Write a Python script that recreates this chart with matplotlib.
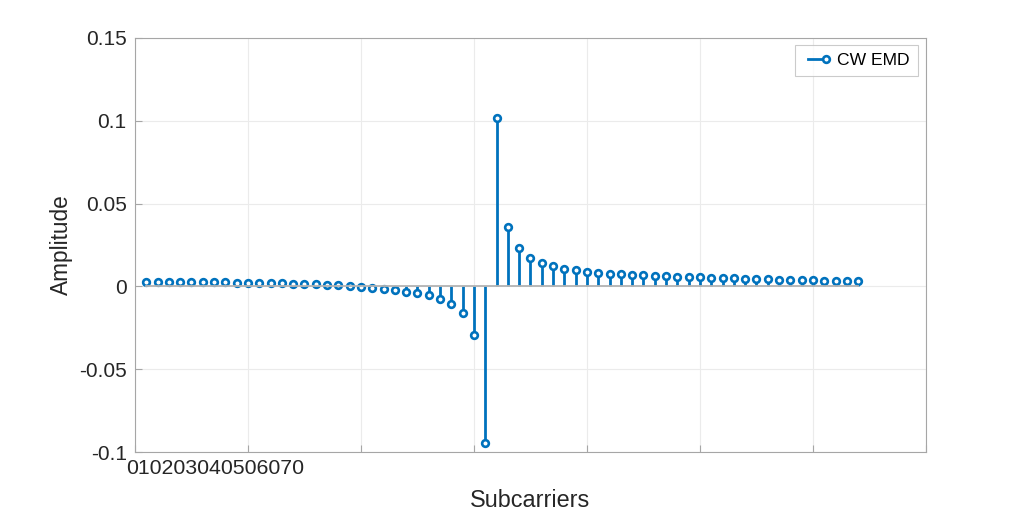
import numpy as np
import matplotlib
matplotlib.use("Agg")
import matplotlib.pyplot as plt
import matplotlib.transforms as mtransforms
from matplotlib.lines import Line2D
from matplotlib.legend_handler import HandlerLine2D

plt.rcParams['font.family'] = ['Liberation Sans', 'DejaVu Sans']

# subcarrier index and CW EMD amplitude
subcarriers = np.arange(1, 65)
amplitude = [
    0.0028, 0.0028, 0.0028, 0.0026, 0.0026, 0.0026, 0.0024, 0.0024, 0.0022, 0.0022,
    0.0020, 0.0020, 0.0018, 0.0016, 0.0014, 0.0012, 0.0010, 0.0008, 0.0000, -0.0004,
    -0.0008, -0.0016, -0.0022, -0.0032, -0.0040, -0.0054, -0.0077, -0.0107, -0.0160, -0.0294,
    -0.0946, 0.1014, 0.0360, 0.0229, 0.0173, 0.0141, 0.0123, 0.0107, 0.0097, 0.0086,
    0.0080, 0.0077, 0.0072, 0.0068, 0.0066, 0.0062, 0.0060, 0.0058, 0.0056, 0.0056,
    0.0052, 0.0050, 0.0048, 0.0044, 0.0044, 0.0042, 0.0040, 0.0038, 0.0038, 0.0036,
    0.0034, 0.0034, 0.0032, 0.0030,
]
xtick_pos = [0, 10, 20, 30, 40, 50, 60, 70]
xtick_text = "010203040506070"
ytick_pos = [-0.1, -0.05, 0, 0.05, 0.1, 0.15]
ytick_text = ["-0.1", "-0.05", "0", "0.05", "0.1", "0.15"]

blue = '#0072BD'
edge = '#a6a6a6'
txt = '#262626'


class EndMarker(HandlerLine2D):
    # matlab style stem legend: line with the marker at its right end
    def create_artists(self, *args, **kwargs):
        arts = super().create_artists(*args, **kwargs)
        for a in arts:
            a.set_markevery([len(a.get_xdata()) - 1])
        return arts


fig = plt.figure(figsize=(10.24, 5.14), dpi=100)
ax = fig.add_axes([0.1318, 0.1206, 0.7725, 0.8055])

markers, stems, base = ax.stem(subcarriers, amplitude)
plt.setp(stems, color=blue, linewidth=2.0)
plt.setp(markers, color=blue, marker='o', markersize=4.8, markerfacecolor='white',
         markeredgewidth=1.9)
plt.setp(base, color='#b3b3b3', linewidth=1.3)

ax.set_xlim(0, 70)
ax.set_ylim(-0.1, 0.15)
ax.set_xticks(xtick_pos)
ax.set_xticklabels([''] * len(xtick_pos))
ax.set_yticks(ytick_pos)
ax.set_yticklabels(ytick_text, fontsize=15, color=txt)
ax.tick_params(direction='in', length=5, color=edge, width=0.8)
ax.tick_params(axis='y', pad=6)
ax.grid(True, color='#ebebeb', linewidth=0.8)
ax.set_axisbelow(True)
for s in ax.spines.values():
    s.set_color(edge)
    s.set_linewidth(0.8)

# crammed x tick labels as in the reference
trans = mtransforms.blended_transform_factory(ax.transData, ax.transAxes)
ax.text(-0.75, -0.04, xtick_text, transform=trans, ha='left', va='center',
        fontsize=15.3, color=txt)

ax.set_xlabel('Subcarriers', fontsize=16.8, color=txt, labelpad=23)
ax.set_ylabel('Amplitude', fontsize=16.3, color=txt, labelpad=4)

h = Line2D([], [], color=blue, linewidth=2.0, marker='o', markersize=4.8,
           markerfacecolor='white', markeredgewidth=1.9)
leg = ax.legend([h], ['CW EMD'], loc='upper right', fontsize=12.6, frameon=True,
                fancybox=False, borderpad=0.45, handlelength=1.6, handletextpad=0.35,
                borderaxespad=0, bbox_to_anchor=(0.9895, 0.983),
                handler_map={Line2D: EndMarker(numpoints=2)})
leg.get_frame().set_edgecolor('#bfbfbf')
leg.get_frame().set_linewidth(0.8)

fig.savefig('out.png', dpi=100)
